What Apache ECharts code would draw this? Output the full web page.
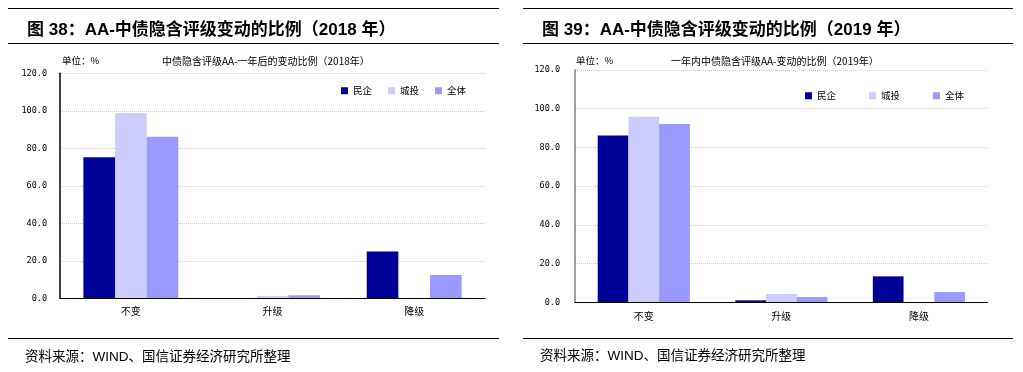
<!DOCTYPE html>
<html><head><meta charset="utf-8">
<script src="https://cdn.jsdelivr.net/npm/echarts@6/dist/echarts.min.js"></script>
<style>html,body{margin:0;padding:0;background:#fff}#c{width:1023px;height:372px}</style>
</head><body><div id="c"></div>
<script>
var categories = ['不变', '升级', '降级'];
var seriesNames = ['民企', '城投', '全体'];
var minqi2018 = [75.2, 0, 24.9];
var chengtou2018 = [98.8, 1.2, 0];
var quanti2018 = [86.2, 1.6, 12.4];
var minqi2019 = [86.1, 1.0, 13.4];
var chengtou2019 = [95.9, 4.3, 0];
var quanti2019 = [92.1, 2.7, 5.3];
var yTicks = [0, 20, 40, 60, 80, 100, 120];

var colors = ['#000099', '#ccccff', '#9999ff'];
var cjk = '"Noto Sans CJK SC", sans-serif';
var titleFont = '"Liberation Sans", Arial, "Noto Sans CJK SC", sans-serif';

var chart = echarts.init(document.getElementById('c'), null, {renderer: 'canvas'});

function xAxis(gi, margin) {
  return {
    type: 'category', gridIndex: gi, data: categories, z: 5,
    axisLine: {lineStyle: {color: '#000', width: 1.2}},
    axisTick: {inside: true, length: 3, lineStyle: {color: '#000'}},
    axisLabel: {color: '#000', fontSize: 10, fontFamily: cjk, margin: margin}
  };
}
function yAxis(gi, lineColor, margin) {
  return {
    type: 'value', gridIndex: gi, min: yTicks[0], max: yTicks[yTicks.length - 1], interval: 20,
    axisLine: {show: true, lineStyle: {color: lineColor, width: 1.5}},
    axisTick: {show: false},
    axisLabel: {color: '#000', fontSize: 8.5, fontFamily: '"DejaVu Sans Mono", monospace', margin: margin,
      formatter: function (v) { return v.toFixed(1); }},
    splitLine: {show: true, lineStyle: {color: '#cccccc', type: 'dotted', width: 1}}
  };
}
function barSeries(name, idx, data, gi) {
  return {
    name: name, type: 'bar', xAxisIndex: gi, yAxisIndex: gi, data: data,
    barGap: '0%', barCategoryGap: '33%',
    itemStyle: {color: colors[idx], borderWidth: 0},
    emphasis: {disabled: true}
  };
}

var legendCommon = {
  data: seriesNames, icon: 'rect', itemWidth: 7, itemHeight: 7,
  textStyle: {color: '#000', fontSize: 9.5, fontFamily: cjk}
};

chart.setOption({
  animation: false,
  backgroundColor: '#fff',
  color: colors,
  title: [
    {text: '图 38：AA-中债隐含评级变动的比例（2018 年）', left: 22, top: 17,
      textStyle: {fontSize: 17, fontWeight: 'bold', color: '#000', fontFamily: titleFont}},
    {text: '图 39：AA-中债隐含评级变动的比例（2019 年）', left: 537, top: 17,
      textStyle: {fontSize: 17, fontWeight: 'bold', color: '#000', fontFamily: titleFont}},
    {text: '单位：%', left: 57, top: 51, textStyle: {fontSize: 9.5, fontWeight: 'normal', color: '#000', fontFamily: cjk}},
    {text: '单位：%', left: 571, top: 51, textStyle: {fontSize: 9.5, fontWeight: 'normal', color: '#000', fontFamily: cjk}},
    {text: '中债隐含评级AA-一年后的变动比例（2018年）', left: 157, top: 51,
      textStyle: {fontSize: 10, fontWeight: 'normal', color: '#000', fontFamily: cjk}},
    {text: '一年内中债隐含评级AA-变动的比例（2019年）', left: 666, top: 51,
      textStyle: {fontSize: 10, fontWeight: 'normal', color: '#000', fontFamily: cjk}},
    {text: '资料来源：WIND、国信证券经济研究所整理', left: 20, top: 346,
      textStyle: {fontSize: 13.5, fontWeight: 'normal', color: '#000', fontFamily: titleFont}},
    {text: '资料来源：WIND、国信证券经济研究所整理', left: 535, top: 345,
      textStyle: {fontSize: 13.5, fontWeight: 'normal', color: '#000', fontFamily: titleFont}}
  ],
  legend: [
    Object.assign({left: 336, top: 81, itemGap: 16}, legendCommon),
    Object.assign({left: 800, top: 86, itemGap: 33}, legendCommon)
  ],
  grid: [
    {left: 60, top: 73.3, width: 425, height: 225},
    {left: 575, top: 70, width: 412.7, height: 232.3}
  ],
  xAxis: [xAxis(0, 8), xAxis(1, 9)],
  yAxis: [yAxis(0, '#000', 13), yAxis(1, '#808080', 15)],
  series: [
    barSeries('民企', 0, minqi2018, 0),
    barSeries('城投', 1, chengtou2018, 0),
    barSeries('全体', 2, quanti2018, 0),
    barSeries('民企', 0, minqi2019, 1),
    barSeries('城投', 1, chengtou2019, 1),
    barSeries('全体', 2, quanti2019, 1)
  ],
  graphic: [
    {type: 'line', shape: {x1: 8, y1: 8.5, x2: 499, y2: 8.5}, style: {stroke: '#000', lineWidth: 1.2}},
    {type: 'line', shape: {x1: 8, y1: 43.5, x2: 499, y2: 43.5}, style: {stroke: '#000', lineWidth: 1.2}},
    {type: 'line', shape: {x1: 8, y1: 338.5, x2: 499, y2: 338.5}, style: {stroke: '#000', lineWidth: 1.2}},
    {type: 'line', shape: {x1: 523, y1: 8.5, x2: 1013, y2: 8.5}, style: {stroke: '#000', lineWidth: 1.2}},
    {type: 'line', shape: {x1: 523, y1: 43.5, x2: 1013, y2: 43.5}, style: {stroke: '#000', lineWidth: 1.2}},
    {type: 'line', shape: {x1: 523, y1: 338.5, x2: 1013, y2: 338.5}, style: {stroke: '#000', lineWidth: 1.2}}
  ]
});
</script></body></html>
